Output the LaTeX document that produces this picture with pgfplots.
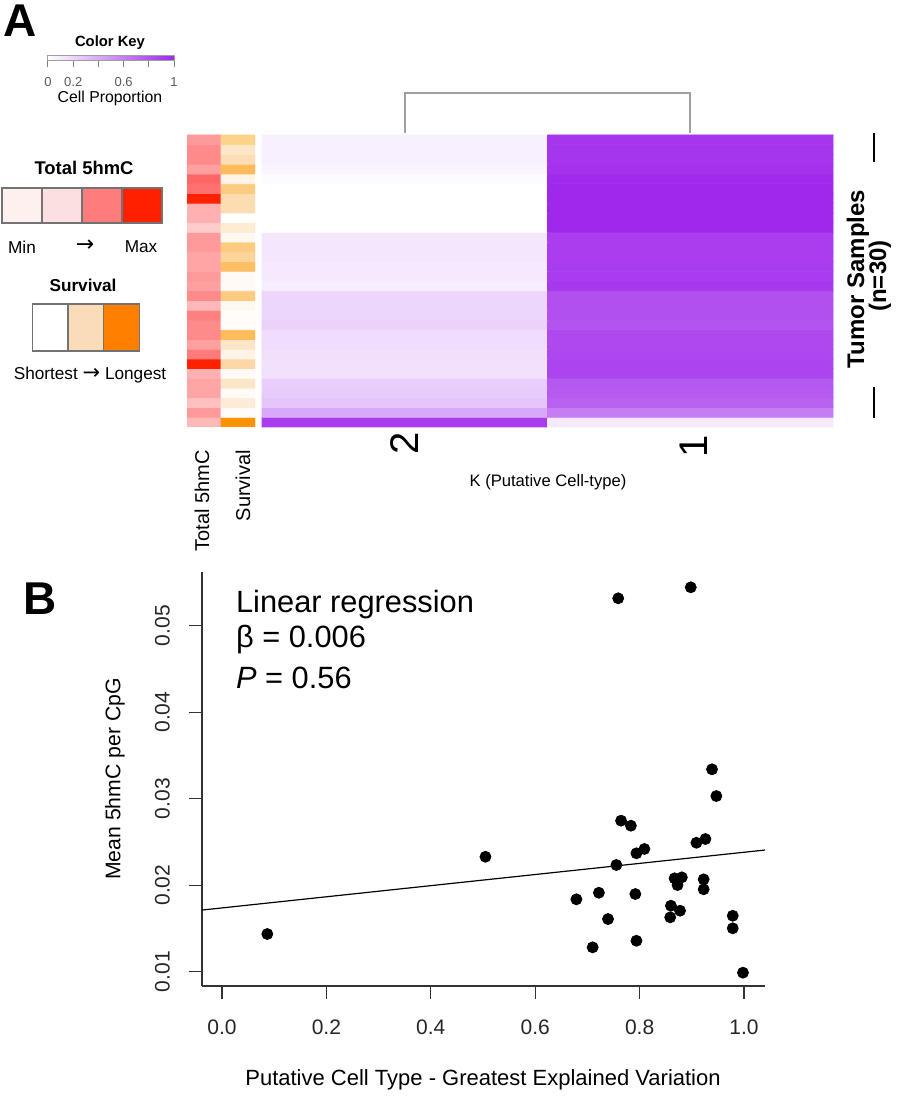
\documentclass[border=0pt]{standalone}
\usepackage{pgfplots}
\pgfplotsset{compat=1.18}
\usepackage{fontspec}
\setmainfont{Liberation Sans}
\newfontfamily\dejavu{DejaVu Sans}
\definecolor{sw1}{RGB}{255,240,240}
\definecolor{sw2}{RGB}{252,224,224}
\definecolor{sw3}{RGB}{255,124,124}
\definecolor{sw4}{RGB}{255,32,0}
\definecolor{sv2}{RGB}{251,220,184}
\definecolor{sv3}{RGB}{255,128,0}
\definecolor{dendro}{RGB}{160,160,160}
\begin{document}
\begin{tikzpicture}
\useasboundingbox (0pt,0pt) rectangle (451.5pt,548.5pt);

% ---------- annotation columns ----------
\begin{axis}[
  at={(93.5pt,335pt)}, anchor=south west,
  scale only axis, width=34pt, height=146pt,
  xmin=-0.5, xmax=1.5, ymin=-0.5, ymax=29.5,
  axis lines=none, xtick=\empty, ytick=\empty,
  colormap={anno}{
    rgb255=(255,255,255) rgb255=(255,154,154) rgb255=(255,138,138) rgb255=(255,160,160)
    rgb255=(255,102,102) rgb255=(255,112,112) rgb255=(255,34,0) rgb255=(255,176,176)
    rgb255=(255,204,204) rgb255=(255,165,165) rgb255=(255,184,184) rgb255=(255,128,128)
    rgb255=(255,122,122) rgb255=(255,192,192) rgb255=(253,211,138) rgb255=(252,230,200)
    rgb255=(252,221,181) rgb255=(253,187,92) rgb255=(255,243,232) rgb255=(253,203,128)
    rgb255=(252,221,178) rgb255=(253,235,210) rgb255=(255,248,240) rgb255=(252,211,154)
    rgb255=(253,191,102) rgb255=(255,250,245) rgb255=(255,252,250) rgb255=(252,216,168)
    rgb255=(253,235,216) rgb255=(255,146,0)},
  colormap access=direct,
]
\addplot[matrix plot*, mesh/cols=2, point meta=explicit] table[meta=c] {
x y c
0 0 10
1 0 29
0 1 1
1 1 26
0 2 13
1 2 28
0 3 9
1 3 25
0 4 9
1 4 15
0 5 7
1 5 25
0 6 6
1 6 27
0 7 12
1 7 18
0 8 3
1 8 15
0 9 2
1 9 17
0 10 2
1 10 26
0 11 11
1 11 26
0 12 10
1 12 22
0 13 2
1 13 19
0 14 3
1 14 25
0 15 1
1 15 25
0 16 9
1 16 24
0 17 9
1 17 23
0 18 1
1 18 19
0 19 1
1 19 22
0 20 8
1 20 21
0 21 7
1 21 0
0 22 7
1 22 20
0 23 6
1 23 20
0 24 5
1 24 19
0 25 4
1 25 18
0 26 3
1 26 17
0 27 2
1 27 16
0 28 2
1 28 15
0 29 1
1 29 14
};
\end{axis}

% ---------- heatmap ----------
\begin{axis}[
  at={(131pt,335pt)}, anchor=south west,
  scale only axis, width=285.5pt, height=146pt,
  xmin=-0.5, xmax=1.5, ymin=-0.5, ymax=29.5,
  axis lines=none, xtick=\empty, ytick=\empty, clip=false,
  colormap={purp}{rgb255=(255,255,255) rgb255=(160,40,236)},
  point meta min=0, point meta max=1,
  colorbar horizontal,
  colorbar style={
    at={(parent axis.north west)}, anchor=south west,
    xshift=-107pt, yshift=46pt,
    scale only axis, width=63pt, height=2.5pt,
    axis line style={dendro, line width=0.5pt},
    xtick={0,0.2,0.4,0.6,0.8,1}, xticklabels={0,0.2,,0.6,,1},
    ytick=\empty,
    xtick pos=left, xticklabel pos=left,
    xtick align=outside, major tick length=3.5pt,
    every tick/.style={gray, line width=0.5pt},
    major x tick style={gray, line width=0.5pt},
    xticklabel style={font=\fontsize{6.5}{7}\selectfont, text=black!65, yshift=-1.5pt},
  },
]
\addplot[matrix plot*, mesh/cols=2, point meta=explicit] table[meta=p] {
x y p
0 0 0.90
1 0 0.10
0 1 0.40
1 1 0.60
0 2 0.27
1 2 0.73
0 3 0.24
1 3 0.76
0 4 0.23
1 4 0.77
0 5 0.14
1 5 0.86
0 6 0.14
1 6 0.86
0 7 0.15
1 7 0.85
0 8 0.16
1 8 0.84
0 9 0.16
1 9 0.84
0 10 0.21
1 10 0.79
0 11 0.19
1 11 0.81
0 12 0.19
1 12 0.81
0 13 0.19
1 13 0.81
0 14 0.08
1 14 0.92
0 15 0.10
1 15 0.90
0 16 0.10
1 16 0.90
0 17 0.11
1 17 0.89
0 18 0.11
1 18 0.89
0 19 0.11
1 19 0.89
0 20 0.00
1 20 1.00
0 21 0.00
1 21 1.00
0 22 0.00
1 22 1.00
0 23 0.00
1 23 1.00
0 24 0.00
1 24 1.00
0 25 0.02
1 25 0.98
0 26 0.05
1 26 0.95
0 27 0.07
1 27 0.93
0 28 0.07
1 28 0.93
0 29 0.07
1 29 0.93
};
% dendrogram
\addplot[dendro, line width=1pt, no markers] coordinates {(0,29.67) (0,33.8) (1,33.8) (1,29.67)};
\end{axis}

% ---------- scatter ----------
\begin{axis}[
  at={(101pt,55.5pt)}, anchor=south west,
  scale only axis, width=281.5pt, height=207pt,
  xmin=-0.0383, xmax=1.0402, ymin=0.00835, ymax=0.05621,
  axis x line*=bottom, axis y line*=left,
  axis line style={line width=0.6pt, black!80},
  tick align=outside, major tick length=6.5pt,
  tick style={black!80, line width=0.6pt},
  scaled y ticks=false, scaled x ticks=false,
  xtick={0,0.2,0.4,0.6,0.8,1}, ytick={0.01,0.02,0.03,0.04,0.05},
  xticklabels={0.0,0.2,0.4,0.6,0.8,1.0},
  yticklabels={0.01,0.02,0.03,0.04,0.05},
  ticklabel style={font=\fontsize{10.5}{12}\selectfont, text=black!85},
  yticklabel style={rotate=90, anchor=south, yshift=6pt},
  xticklabel style={yshift=-7pt},
  clip=false,
]
\addplot[black, line width=0.6pt, no markers] coordinates {(-0.0383,0.01713) (1.0402,0.02407)};
\addplot[only marks, mark=*, mark size=2.75pt, black] coordinates {
(0.0868,0.01436) (0.5047,0.02329) (0.759,0.05317) (0.898,0.05444)
(0.9387,0.0334) (0.947,0.03031) (0.7645,0.02746) (0.7833,0.02688)
(0.9088,0.02491) (0.926,0.02534) (0.7939,0.02369) (0.8092,0.02419)
(0.7555,0.02234) (0.6789,0.01837) (0.722,0.01913) (0.7918,0.01898)
(0.7395,0.01609) (0.710,0.01282) (0.7939,0.01358) (0.8669,0.0208)
(0.8809,0.02091) (0.8726,0.02002) (0.9227,0.02068) (0.9227,0.01953)
(0.86,0.01763) (0.8774,0.01705) (0.8586,0.01629) (0.9784,0.01647)
(0.9784,0.01502) (0.998,0.00989)
};
\end{axis}

\begin{scope}[x=0.5pt,y=0.5pt]
% panel letters
\node[font=\fontsize{23}{23}\selectfont\bfseries] at (20,1076) {A};
\node[font=\fontsize{23}{23}\selectfont\bfseries] at (40,498) {B};

% color key texts
\node[font=\fontsize{7.4}{8}\selectfont\bfseries] at (110,1054) {Color Key};
\node[font=\fontsize{7.9}{9}\selectfont] at (110,999) {Cell Proportion};

% heatmap labels
\node[font=\fontsize{20}{20}\selectfont, rotate=90] at (405,654) {2};
\node[font=\fontsize{20}{20}\selectfont, rotate=90] at (694,651) {1};
\node[font=\fontsize{8.3}{9}\selectfont] at (548,615) {K (Putative Cell-type)};
\node[font=\fontsize{10}{11}\selectfont, rotate=90, anchor=east] at (202,654) {Total 5hmC};
\node[font=\fontsize{10}{11}\selectfont, rotate=90, anchor=east] at (243,654) {Survival};
\node[font=\fontsize{12}{13}\selectfont\bfseries, rotate=90] at (858,818) {Tumor Samples};
\node[font=\fontsize{12}{13}\selectfont\bfseries, rotate=90] at (880,821) {(n=30)};
\draw[line width=1.3pt] (874,964) -- (874,935);
\draw[line width=1.3pt] (874,710) -- (874,679);

% legends
\node[font=\fontsize{9.2}{10}\selectfont\bfseries] at (84,929) {Total 5hmC};
\foreach \i/\c in {0/sw1,1/sw2,2/sw3,3/sw4}{
  \filldraw[fill=\c, draw=black!55, line width=0.6pt] (2+40*\i,874) rectangle (42+40*\i,909);
}
\node[font=\fontsize{8.6}{9}\selectfont] at (22,850) {Min};
\node[font=\fontsize{11}{11}\dejavu] at (85,851) {→};
\node[font=\fontsize{8.6}{9}\selectfont] at (141,850) {Max};
\node[font=\fontsize{8.6}{9}\selectfont\bfseries] at (83,812) {Survival};
\foreach \i/\c in {0/white,1/sv2,2/sv3}{
  \filldraw[fill=\c, draw=black!55, line width=0.6pt] (32.3+35.7*\i,746) rectangle (68+35.7*\i,793);
}
\node[font=\fontsize{8.6}{9}\selectfont] at (90,722) {Shortest {\fontsize{10.5}{9}\dejavu →} Longest};

% panel B texts
\node[font=\fontsize{15.4}{17}\selectfont, anchor=west] at (229,492) {Linear regression};
\node[font=\fontsize{15.4}{17}\selectfont, anchor=west] at (229,457) {β = 0.006};
\node[font=\fontsize{15.4}{17}\selectfont, anchor=west] at (229,419) {\textit{P} = 0.56};
\node[font=\fontsize{11}{12}\selectfont] at (483,17) {Putative Cell Type - Greatest Explained Variation};
\node[font=\fontsize{10.6}{12}\selectfont, rotate=90] at (115,318) {Mean 5hmC per CpG};
\end{scope}
\end{tikzpicture}
\end{document}
